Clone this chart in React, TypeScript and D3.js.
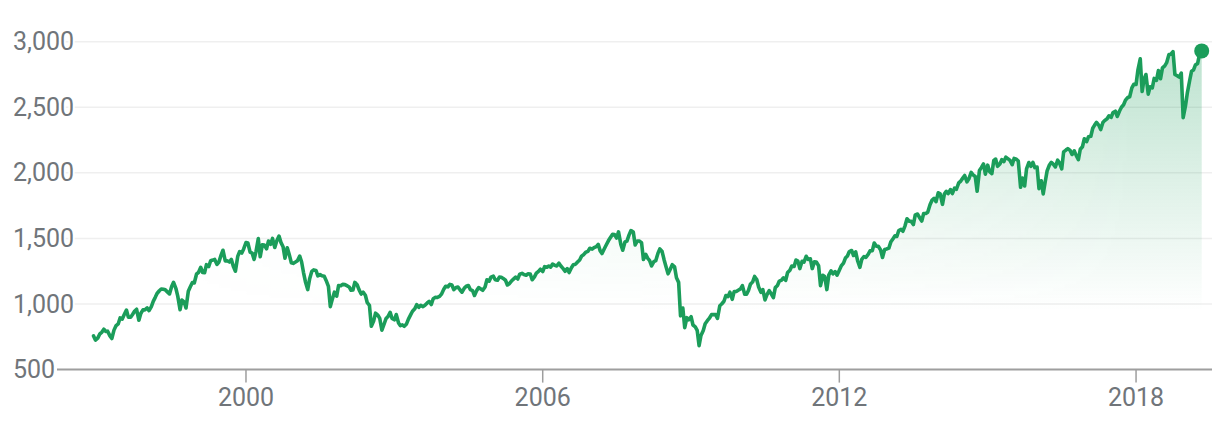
import React from "react";
import * as d3 from "d3";

// S&P 500 style index, semi-monthly readings (1st and 15th of each month)
const v1996 = [757, 725]; // from December
const v1997 = [740, 770, 786, 808, 791, 793, 757, 737, 801, 833, 848, 894, 885, 918, 954, 900, 899, 920, 947, 960, 876, 928, 955, 955];
const v1998 = [970, 950, 980, 1020, 1049, 1080, 1101, 1115, 1112, 1108, 1091, 1077, 1134, 1165, 1120, 1060, 957, 1030, 1017, 970, 1098, 1130, 1164, 1160];
const v1999 = [1229, 1240, 1280, 1240, 1238, 1300, 1286, 1330, 1335, 1340, 1302, 1320, 1373, 1410, 1329, 1330, 1320, 1340, 1283, 1250, 1363, 1400, 1389, 1420];
const v2000 = [1469, 1465, 1394, 1390, 1340, 1400, 1499, 1360, 1452, 1450, 1421, 1480, 1455, 1500, 1431, 1480, 1518, 1470, 1437, 1350, 1429, 1380, 1315, 1310];
const v2001 = [1320, 1330, 1366, 1320, 1240, 1170, 1110, 1190, 1249, 1260, 1256, 1215, 1224, 1215, 1211, 1180, 1134, 980, 1041, 1090, 1060, 1140, 1139, 1150];
const v2002 = [1148, 1140, 1130, 1105, 1107, 1165, 1147, 1110, 1076, 1090, 1067, 1010, 990, 830, 870, 930, 916, 890, 800, 840, 890, 905, 936, 890];
const v2003 = [880, 920, 856, 835, 841, 830, 848, 885, 917, 945, 964, 995, 975, 990, 980, 990, 1008, 1020, 996, 1040, 1051, 1050, 1058, 1075];
const v2004 = [1112, 1135, 1131, 1150, 1145, 1110, 1126, 1130, 1107, 1090, 1121, 1135, 1141, 1110, 1102, 1065, 1104, 1125, 1115, 1105, 1130, 1185, 1174, 1205];
const v2005 = [1212, 1185, 1181, 1205, 1204, 1195, 1181, 1145, 1157, 1175, 1192, 1205, 1191, 1228, 1234, 1225, 1220, 1230, 1229, 1185, 1207, 1235, 1249, 1265];
const v2006 = [1248, 1285, 1280, 1290, 1281, 1305, 1295, 1290, 1311, 1290, 1270, 1250, 1270, 1240, 1277, 1300, 1304, 1320, 1336, 1365, 1378, 1395, 1401, 1425];
const v2007 = [1418, 1430, 1438, 1455, 1407, 1385, 1421, 1450, 1482, 1505, 1531, 1530, 1503, 1550, 1455, 1410, 1474, 1480, 1527, 1560, 1549, 1450, 1481, 1480];
const v2008 = [1468, 1340, 1379, 1350, 1331, 1290, 1323, 1330, 1386, 1420, 1400, 1340, 1280, 1230, 1267, 1300, 1283, 1200, 1165, 910, 969, 820, 896, 880];
const v2009 = [903, 840, 826, 800, 683, 760, 798, 850, 873, 890, 919, 920, 919, 890, 987, 1000, 1021, 1065, 1057, 1090, 1036, 1095, 1096, 1105];
const v2010 = [1115, 1140, 1074, 1075, 1104, 1150, 1169, 1210, 1187, 1130, 1089, 1110, 1031, 1070, 1102, 1080, 1049, 1125, 1141, 1175, 1183, 1200, 1181, 1240];
const v2011 = [1258, 1290, 1286, 1335, 1327, 1270, 1326, 1320, 1364, 1340, 1345, 1270, 1321, 1320, 1292, 1140, 1219, 1210, 1110, 1220, 1253, 1230, 1247, 1220];
const v2012 = [1258, 1290, 1312, 1350, 1366, 1400, 1408, 1370, 1398, 1330, 1280, 1340, 1362, 1356, 1379, 1405, 1407, 1465, 1441, 1440, 1412, 1355, 1416, 1420];
const v2013 = [1426, 1472, 1498, 1520, 1515, 1560, 1569, 1555, 1598, 1650, 1631, 1630, 1606, 1680, 1686, 1660, 1633, 1690, 1690, 1700, 1757, 1790, 1806, 1780];
const v2014 = [1848, 1840, 1760, 1838, 1859, 1841, 1872, 1842, 1884, 1875, 1924, 1936, 1960, 1980, 1931, 1955, 2003, 1985, 1972, 1860, 2018, 2040, 2068, 1990];
const v2015 = [2059, 2010, 1995, 2095, 2105, 2050, 2068, 2100, 2086, 2120, 2107, 2095, 2063, 2110, 2104, 2090, 1890, 1960, 1900, 2030, 2079, 2050, 2080, 2040];
const v2016 = [2044, 1880, 1940, 1840, 1932, 2015, 2060, 2080, 2065, 2045, 2097, 2075, 2030, 2160, 2174, 2185, 2171, 2140, 2168, 2135, 2100, 2180, 2199, 2260];
const v2017 = [2239, 2275, 2279, 2340, 2364, 2385, 2363, 2330, 2384, 2400, 2412, 2435, 2423, 2460, 2470, 2430, 2472, 2500, 2519, 2555, 2575, 2580, 2648, 2675];
const v2018 = [2674, 2786, 2870, 2620, 2714, 2750, 2600, 2656, 2648, 2720, 2705, 2780, 2718, 2800, 2816, 2840, 2902, 2905, 2925, 2750, 2740, 2730, 2760, 2420];
const v2019 = [2510, 2610, 2704, 2775, 2784, 2822, 2834, 2905, 2930];

const yTicks = [500, 1000, 1500, 2000, 2500, 3000];
const xTickYears = [2000, 2006, 2012, 2018];

type Pt = { date: Date; value: number };

function block(year: number, startMonth: number, vals: number[]): Pt[] {
  return vals.map((v, i) => ({
    date: new Date(year, startMonth + Math.floor(i / 2), i % 2 === 0 ? 1 : 15),
    value: v,
  }));
}

const data: Pt[] = [
  ...block(1996, 11, v1996),
  ...block(1997, 0, v1997),
  ...block(1998, 0, v1998),
  ...block(1999, 0, v1999),
  ...block(2000, 0, v2000),
  ...block(2001, 0, v2001),
  ...block(2002, 0, v2002),
  ...block(2003, 0, v2003),
  ...block(2004, 0, v2004),
  ...block(2005, 0, v2005),
  ...block(2006, 0, v2006),
  ...block(2007, 0, v2007),
  ...block(2008, 0, v2008),
  ...block(2009, 0, v2009),
  ...block(2010, 0, v2010),
  ...block(2011, 0, v2011),
  ...block(2012, 0, v2012),
  ...block(2013, 0, v2013),
  ...block(2014, 0, v2014),
  ...block(2015, 0, v2015),
  ...block(2016, 0, v2016),
  ...block(2017, 0, v2017),
  ...block(2018, 0, v2018),
  ...block(2019, 0, v2019),
];

const W = 1228;
const H = 430;
const GREEN = "#1b9d5a";
const TEXT = "#70757a";
const FONT = "Roboto, 'Noto Sans', sans-serif";

export default function App() {
  const x = d3
    .scaleTime()
    .domain([new Date(1996, 2, 6), new Date(2019, 6, 16)])
    .range([57, 1212]);
  const y = d3.scaleLinear().domain([500, 3000]).range([369.6, 41.7]);

  const line = d3
    .line<Pt>()
    .x((d) => x(d.date))
    .y((d) => y(d.value))
    .curve(d3.curveLinear);
  const area = d3
    .area<Pt>()
    .x((d) => x(d.date))
    .y0(y(500))
    .y1((d) => y(d.value))
    .curve(d3.curveLinear);

  const last = data[data.length - 1];
  const fmt = d3.format(",");

  return (
    <svg
      width={W}
      height={H}
      style={{ position: "absolute", left: 0, top: 0, background: "#fff" }}
    >
      <defs>
        <linearGradient id="vfade" gradientUnits="userSpaceOnUse" x1={0} y1={y(3000)} x2={0} y2={y(950)}>
          <stop offset="0" stopColor={GREEN} stopOpacity={0.3} />
          <stop offset="1" stopColor={GREEN} stopOpacity={0} />
        </linearGradient>
        <linearGradient id="hfade" gradientUnits="userSpaceOnUse" x1={x(new Date(1999, 0, 1))} y1={0} x2={x(new Date(2018, 0, 1))} y2={0}>
          <stop offset="0" stopColor="#fff" stopOpacity={0.05} />
          <stop offset="1" stopColor="#fff" stopOpacity={1} />
        </linearGradient>
        <mask id="hmask">
          <rect x={0} y={0} width={W} height={H} fill="url(#hfade)" />
        </mask>
      </defs>

      {yTicks.slice(1).map((t) => (
        <line key={t} x1={57} x2={1212} y1={y(t)} y2={y(t)} stroke="#efefef" strokeWidth={1.5} />
      ))}

      <path d={area(data) ?? ""} fill="url(#vfade)" mask="url(#hmask)" />

      <line x1={57} x2={1212} y1={y(500)} y2={y(500)} stroke="#9e9e9e" strokeWidth={2} />

      {xTickYears.map((yr) => {
        const xx = x(new Date(yr, 0, 1));
        return (
          <g key={yr}>
            <line x1={xx} x2={xx} y1={y(500)} y2={y(500) + 13} stroke="#9e9e9e" strokeWidth={1.5} />
            <text
              x={xx}
              y={406}
              textAnchor="middle"
              fontFamily={FONT}
              fontSize={25}
              fill={TEXT}
            >
              {yr}
            </text>
          </g>
        );
      })}

      {yTicks.map((t) => (
        <text
          key={t}
          x={13}
          y={y(t)}
          dominantBaseline="central"
          fontFamily={FONT}
          fontSize={25}
          fill={TEXT}
          stroke="#fff"
          strokeWidth={4}
          paintOrder="stroke"
        >
          {fmt(t)}
        </text>
      ))}

      <path
        d={line(data) ?? ""}
        fill="none"
        stroke={GREEN}
        strokeWidth={3.6}
        strokeLinejoin="round"
        strokeLinecap="round"
      />
      <circle cx={x(last.date)} cy={y(last.value)} r={7.5} fill={GREEN} />
    </svg>
  );
}
